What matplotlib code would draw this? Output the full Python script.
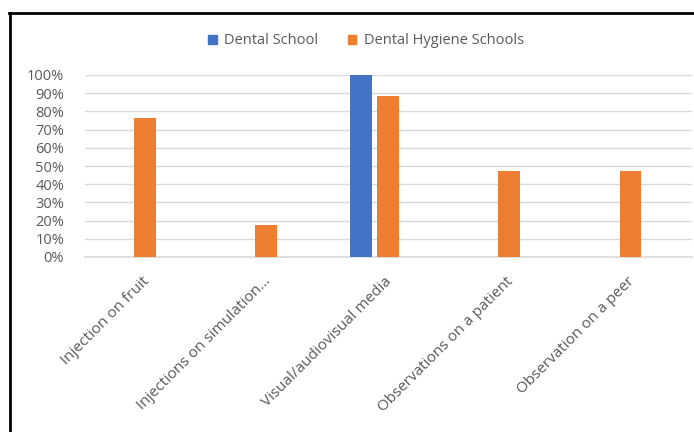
import numpy as np
import matplotlib
matplotlib.use('Agg')
import matplotlib.pyplot as plt
import matplotlib.transforms as mtransforms
from matplotlib.lines import Line2D
from matplotlib.patches import Patch

# data
categories = ['Injection on fruit', 'Injections on simulation...',
              'Visual/audiovisual media', 'Observations on a patient',
              'Observation on a peer']
dental_school = [0.0, 0.0, 1.0, 0.0, 0.0]
hygiene_schools = [0.765, 0.176, 0.882, 0.471, 0.471]
series_names = ['Dental School', 'Dental Hygiene Schools']
y_ticks = [0, 0.1, 0.2, 0.3, 0.4, 0.5, 0.6, 0.7, 0.8, 0.9, 1.0]

BLUE = '#4472C4'
ORANGE = '#ED7D31'
GREY_TXT = '#595959'
FONT = 'Open Sans'

W, H = 694, 432
fig = plt.figure(figsize=(W / 100, H / 100), dpi=100)

# axes placed by pixel: gridlines run from x=85 to 692, 0% at y=257, 100% at y=75
ax = fig.add_axes([85 / W, (H - 257) / H, (692 - 85) / W, (257 - 75) / H])

x = np.arange(len(categories))
bw = 0.18
off = 0.111
for i in range(len(categories)):
    if dental_school[i] > 0:
        ax.bar(x[i] - off, dental_school[i], bw, color=BLUE, zorder=3)
    if hygiene_schools[i] > 0:
        ax.bar(x[i] + off, hygiene_schools[i], bw, color=ORANGE, zorder=3)

ax.set_xlim(-0.383, len(categories) - 0.383)
ax.set_ylim(0, 1.0)
ax.set_yticks(y_ticks)
ax.set_yticklabels([f'{int(round(v * 100))}%' for v in y_ticks],
                   fontsize=10.5, color=GREY_TXT, family=FONT)
ax.yaxis.grid(True, color='#D9D9D9', lw=1.0, zorder=0)
ax.tick_params(axis='y', length=0, pad=15)
ax.tick_params(axis='x', length=0, pad=2)
for s in ['left', 'right', 'top']:
    ax.spines[s].set_visible(False)
ax.spines['bottom'].set_color('#D9D9D9')
ax.spines['bottom'].set_linewidth(1.2)

ax.set_xticks(x)
ax.set_xticklabels(categories, rotation=45, ha='right', va='top',
                   rotation_mode='anchor', fontsize=11, color=GREY_TXT,
                   family=FONT)
# Excel puts the end of the slanted labels a bit right of the category centre
shift = mtransforms.ScaledTranslation(10 / 100, -14 / 100, fig.dpi_scale_trans)
for lbl in ax.get_xticklabels():
    lbl.set_transform(lbl.get_transform() + shift)

handles = [Patch(color=BLUE), Patch(color=ORANGE)]
fig.legend(handles, series_names, loc='center', bbox_to_anchor=(366 / W, 1 - 41 / H),
           ncol=2, frameon=False, prop={'family': FONT, 'size': 10.5},
           handlelength=0.6, handleheight=0.6, handletextpad=0.5,
           columnspacing=2.0, labelcolor=GREY_TXT)

# frame of the pasted chart: left and top edges only
fig.add_artist(Line2D([9.5 / W, 9.5 / W], [0, 1 - 13 / H], color='black', lw=2))
fig.add_artist(Line2D([9 / W, 1], [1 - 13 / H, 1 - 13 / H], color='black', lw=2))

fig.savefig('out.png', dpi=100)
